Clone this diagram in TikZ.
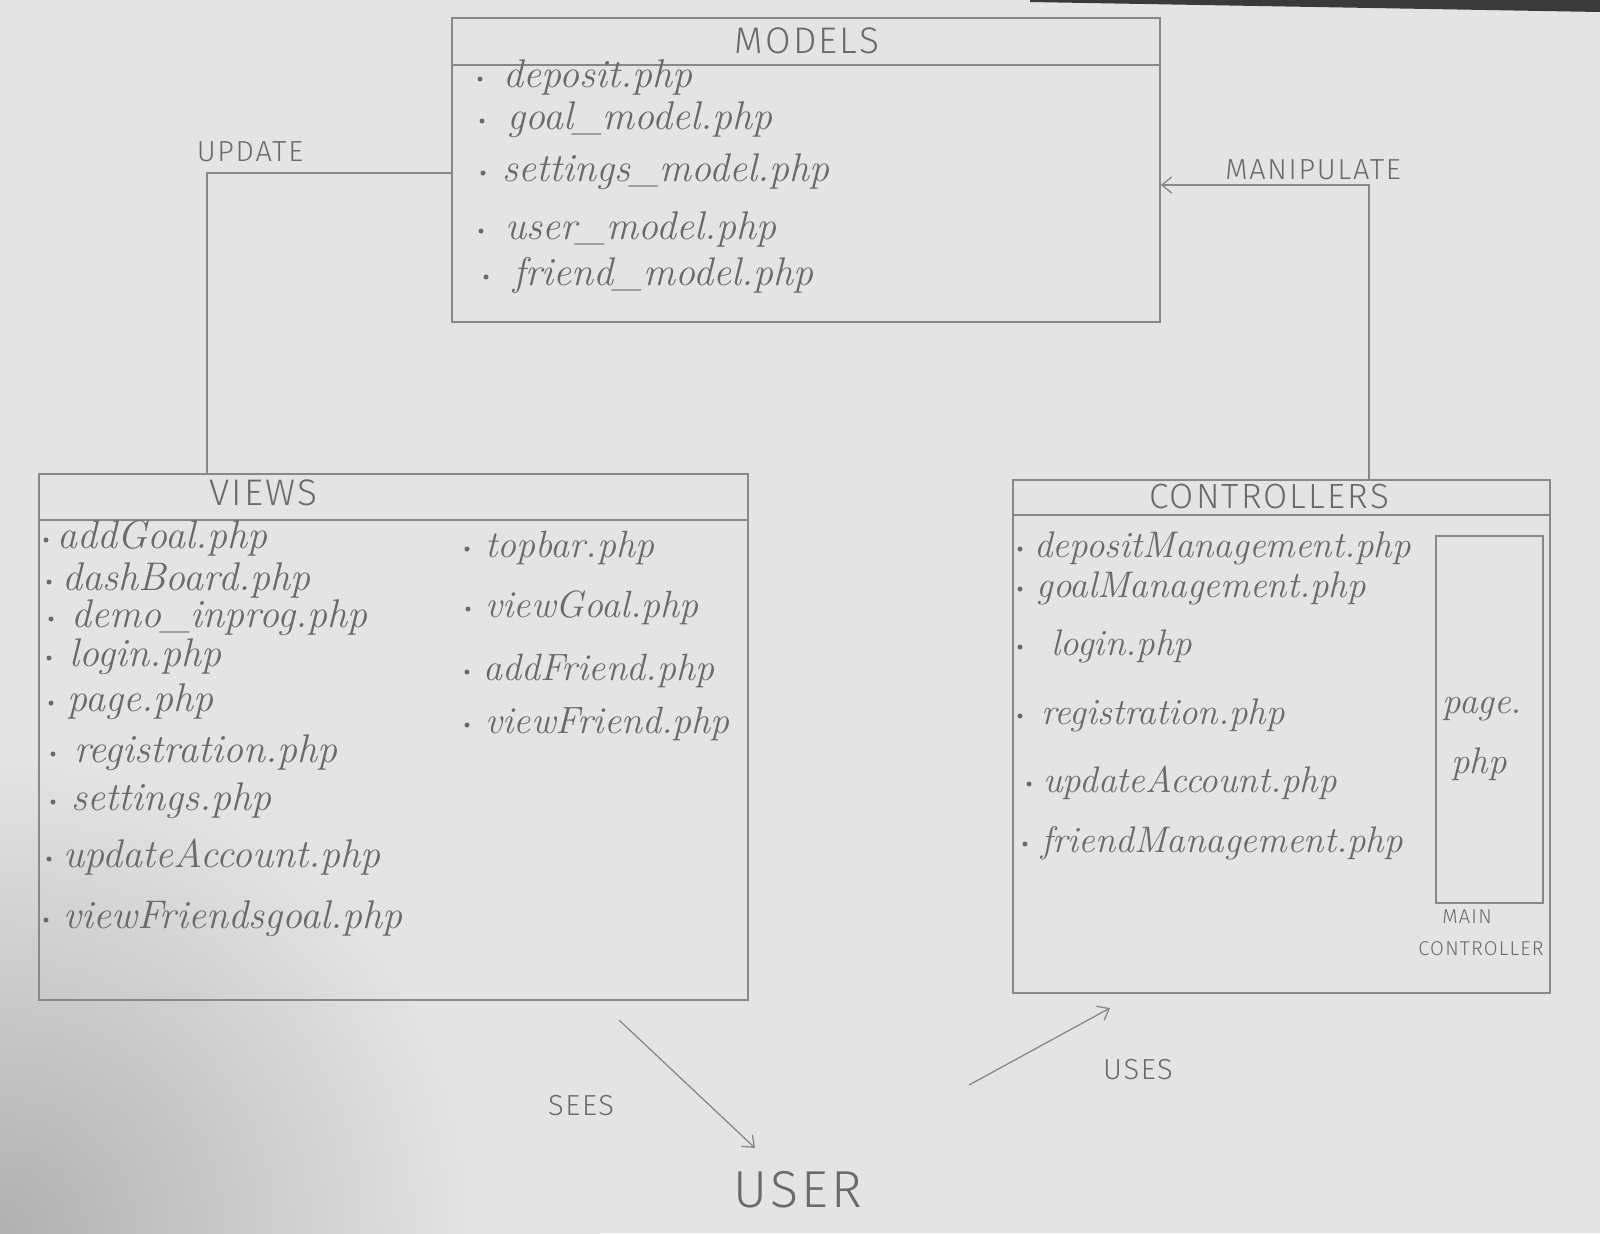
\documentclass[tikz,border=0pt]{standalone}
\usepackage{fontspec}
\usepackage{graphicx}
\usetikzlibrary{arrows.meta,fit}
\newfontfamily\capsfont{Fira Sans Light}[LetterSpace=6]
\definecolor{paper}{HTML}{E4E4E4}
\definecolor{corner}{HTML}{B0B0B0}
\definecolor{pencil}{HTML}{888888}
\definecolor{ink}{HTML}{6A6A6A}
\definecolor{shadow}{HTML}{3A3A3A}
\pgfdeclareradialshading{vign}{\pgfpoint{0bp}{0bp}}{color(0bp)=(corner); color(20bp)=(paper); color(50bp)=(paper)}
\newcommand\fentry[6]{%
  \fill[ink] (#2,#4-8) circle[radius=1.25pt];
  \node[#6, anchor=base west] (#1) at (#3,#4) {#5};
}
\tikzset{
  box/.style={draw=pencil, line width=0.65pt, inner sep=0pt},
  conn/.style={draw=pencil, line width=0.65pt},
  tip/.style={-{Straight Barb[length=5pt,width=8pt,line width=0.65pt]}},
  itemA/.style={inner sep=0pt, text=ink, font=\itshape\fontsize{20}{24}\selectfont},
  itemB/.style={inner sep=0pt, text=ink, font=\itshape\fontsize{19}{23}\selectfont},
  itemC/.style={inner sep=0pt, text=ink, font=\itshape\fontsize{18.5}{22}\selectfont},
  headcap/.style={inner sep=0pt, text=ink, font=\capsfont\fontsize{18.5}{20}\selectfont},
  labcap/.style={inner sep=0pt, text=ink, font=\capsfont\fontsize{14.5}{16}\selectfont},
  smallcap/.style={inner sep=0pt, text=ink, font=\capsfont\fontsize{10}{11}\selectfont},
}
\begin{document}
\begin{tikzpicture}[x=0.5pt,y=-0.5pt]
\useasboundingbox (0,0) rectangle (1600,1233);
\fill[paper] (0,0) rectangle (1600,1233);
\begin{scope}
  \clip (0,0) rectangle (1600,1233);
  \shade[shading=vign] (0,1233) circle[radius=600];
\end{scope}
\fill[shadow] (1030,0) -- (1600,0) -- (1600,12) -- (1030,2) -- cycle;

% boxes
\node[box, fit={(452,18) (1160,322)}] (models) {};
\node[box, fit={(39,474) (748,1000)}] (views) {};
\node[box, fit={(1013,480) (1550,993)}] (controllers) {};
\node[box, fit={(1436,536) (1543,903)}] (mainctrl) {};

% header separators
\coordinate (mh) at (0,65);
\coordinate (vh) at (0,520);
\coordinate (ch) at (0,515);
\draw[conn] (models.west |- mh) -- (models.east |- mh);
\draw[conn] (views.west |- vh) -- (views.east |- vh);
\draw[conn] (controllers.west |- ch) -- (controllers.east |- ch);

% titles
\node[headcap, anchor=base] (modelstitle) at (807,53) {MODELS};
\node[headcap, anchor=base] (viewstitle) at (263,505) {VIEWS};
\node[headcap, anchor=base, font=\capsfont\fontsize{17.5}{19}\selectfont] (ctrltitle) at (1269,508) {CONTROLLERS};

% models items
\fentry{m1}{480}{503}{87}{deposit.php}{itemA}
\fentry{m2}{482}{507}{129}{goal\_model.php}{itemA}
\fentry{m3}{483}{502}{181}{settings\_model.php}{itemA}
\fentry{m4}{481}{505}{239}{user\_model.php}{itemA}
\fentry{m5}{486}{513}{285}{friend\_model.php}{itemA}

% views items, left column
\fentry{v1}{46}{57}{548}{addGoal.php}{itemA}
\fentry{v2}{49}{62}{590}{dashBoard.php}{itemA}
\fentry{v3}{51}{71}{627}{demo\_inprog.php}{itemA}
\fentry{v4}{49}{69}{666}{login.php}{itemA}
\fentry{v5}{51}{67}{711}{page.php}{itemA}
\fentry{v6}{53}{74}{762}{registration.php}{itemA}
\fentry{v7}{53}{71}{810}{settings.php}{itemA}
\fentry{v8}{49}{63}{867}{updateAccount.php}{itemA}
\fentry{v9}{46}{63}{928}{viewFriendsgoal.php}{itemA}
% views items, right column
\fentry{v10}{467}{485}{557}{topbar.php}{itemB}
\fentry{v11}{468}{485}{617}{viewGoal.php}{itemB}
\fentry{v12}{467}{483}{680}{addFriend.php}{itemB}
\fentry{v13}{467}{485}{733}{viewFriend.php}{itemB}

% controllers items
\fentry{c1}{1020}{1034}{557}{depositManagement.php}{itemC}
\fentry{c2}{1020}{1036}{597}{goalManagement.php}{itemC}
\fentry{c3}{1020}{1051}{655}{login.php}{itemC}
\fentry{c4}{1020}{1041}{724}{registration.php}{itemC}
\fentry{c5}{1029}{1043}{792}{updateAccount.php}{itemC}
\fentry{c6}{1025}{1041}{852}{friendManagement.php}{itemC}

% main controller
\node[itemC, anchor=base west] (pg1) at (1442,713) {page.};
\node[itemC, anchor=base west] (pg2) at (1451,773) {php};
\node[smallcap, anchor=base] (mainlab) at (1467,923) {MAIN};
\node[smallcap, anchor=base] (ctrllab) at (1481,955) {CONTROLLER};

% connectors
\coordinate (upd) at (207,173);
\draw[conn] (models.west |- upd) -- (upd) -- (views.north -| upd);
\node[labcap, anchor=base] (updlab) at (250,161) {UPDATE};

\coordinate (man) at (1369,185);
\draw[conn, tip] (controllers.north -| man) -- (man) -- (models.east |- man);
\node[labcap, anchor=base] (manlab) at (1313,179) {MANIPULATE};

% user
\node[inner sep=0pt, text=ink, font=\capsfont\fontsize{26}{28}\selectfont, anchor=base] (user) at (798,1207) {USER};

\coordinate (sees0) at (619,1020);
\coordinate (sees1) at (755,1148);
\draw[conn, tip] (sees0) -- (sees1);
\node[labcap, anchor=base] (seeslab) at (581,1115) {SEES};

\coordinate (uses0) at (969,1085);
\coordinate (uses1) at (1110,1008);
\draw[conn, tip] (uses0) -- (uses1);
\node[labcap, anchor=base] (useslab) at (1138,1079) {USES};
\end{tikzpicture}
\end{document}
